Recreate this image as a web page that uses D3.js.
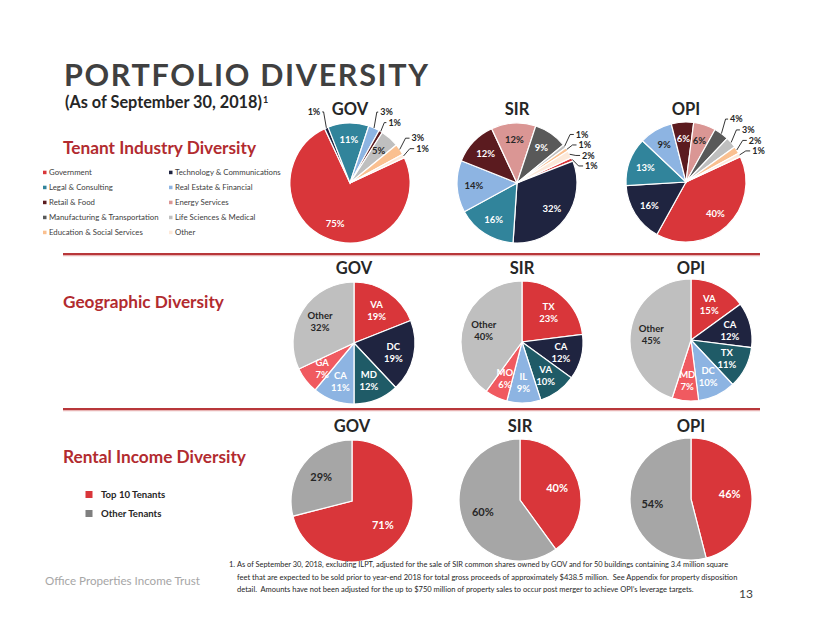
<!DOCTYPE html>
<html><head><meta charset="utf-8">
<script src="https://cdn.jsdelivr.net/npm/d3@7"></script>
<style>
body{margin:0;background:#fff;}
svg{display:block;font-family:Lato,"Open Sans",sans-serif;}
</style></head>
<body><svg id="c" width="822" height="635"></svg>
<script>
// ---------- DATA ----------
const industryCategories = ["Government","Technology & Communications","Legal & Consulting","Real Estate & Financial","Retail & Food","Energy Services","Manufacturing & Transportation","Life Sciences & Medical","Education & Social Services","Other"];
const industryColors = ["#D9363A","#1F2440","#31849B","#8DB4E2","#5B1B1F","#DA9694","#595959","#BFBFBF","#FAC090","#FDE9D9"];
const industryGOV = [75,1,11,3,1,0,0,5,3,1];
const industrySIR = [1,32,16,14,12,12,9,1,1,2];
const industryOPI = [40,16,13,9,6,6,4,3,2,1];

const geoColors = ["#D9363A","#1F2440","#1F5B67","#8DB4E2","#F05A60","#BFBFBF"];
const geoGOVLabels = ["VA","DC","MD","CA","GA","Other"];
const geoGOVValues = [19,19,12,11,7,32];
const geoSIRLabels = ["TX","CA","VA","IL","MO","Other"];
const geoSIRValues = [23,12,10,9,6,40];
const geoOPILabels = ["VA","CA","TX","DC","MD","Other"];
const geoOPIValues = [15,12,11,10,7,45];

const rentalCategories = ["Top 10 Tenants","Other Tenants"];
const rentalColors = ["#D9363A","#A6A6A6"];
const rentalGOV = [71,29];
const rentalSIR = [40,60];
const rentalOPI = [46,54];

const companies = ["GOV","SIR","OPI"];
const footnote = [
 "As of September 30, 2018, excluding ILPT, adjusted for the sale of SIR common shares owned by GOV and for 50 buildings containing 3.4 million square",
 "feet that are expected to be sold prior to year-end 2018 for total gross proceeds of approximately $438.5 million.  See Appendix for property disposition",
 "detail.  Amounts have not been adjusted for the up to $750 million of property sales to occur post merger to achieve OPI\u2019s leverage targets."
];

// ---------- DRAW ----------
const svg = d3.select("#c");
const deg = Math.PI/180;
const dark = "#404040";

function fit(sel, width){
  const n = sel.node(); const w = n.getComputedTextLength();
  const fs = parseFloat(sel.attr("font-size"));
  sel.attr("font-size", fs*width/w);
  return sel;
}
function spread(sel, width){
  const n = sel.node(); const w = n.getComputedTextLength();
  const len = sel.text().length;
  sel.attr("letter-spacing", (width-w)/(len-1));
  return sel;
}

// Title
spread(svg.append("text").attr("x",64).attr("y",85.5).attr("font-size",30.5).attr("font-weight",700)
  .attr("fill",dark).text("PORTFOLIO DIVERSITY"),364);
const sub = svg.append("text").attr("x",65).attr("y",108).attr("font-size",15).attr("font-weight",700).attr("fill","#262626");
sub.append("tspan").text("(As of September 30, 2018)");
fit(sub,197);
svg.append("text").attr("x",263).attr("y",103).attr("font-size",9).attr("font-weight",700).attr("fill","#262626").text("1");

// Section titles
const red = "#B22B2F";
[["Tenant Industry Diversity",154,193],["Geographic Diversity",308,161],["Rental Income Diversity",463,183]].forEach(([t,y,w])=>{
  fit(svg.append("text").attr("x",63).attr("y",y).attr("font-size",18).attr("font-weight",700).attr("fill",red).text(t),w);
});

// separator lines
[254,409].forEach(y=>{
  svg.append("line").attr("x1",63).attr("x2",760).attr("y1",y+1.5).attr("y2",y+1.5).attr("stroke","#E8B4B4").attr("stroke-width",1.5);
  svg.append("line").attr("x1",63).attr("x2",760).attr("y1",y).attr("y2",y).attr("stroke","#B8373A").attr("stroke-width",2);
});

// Industry legend
industryCategories.forEach((c,i)=>{
  const col = i%2, row = Math.floor(i/2);
  const x = col===0 ? 43 : 169, y = 172.5 + row*15;
  svg.append("rect").attr("x",x).attr("y",y-1.8).attr("width",3.5).attr("height",3.5).attr("fill",industryColors[i]);
  svg.append("text").attr("x",x+6).attr("y",y+2.8).attr("font-size",7.8).attr("fill","#404040").text(c);
});

// Rental legend
rentalCategories.forEach((c,i)=>{
  const y = 494.5 + i*19;
  svg.append("rect").attr("x",85.5).attr("y",y-3.5).attr("width",7).attr("height",7).attr("fill",i===0?"#D9363A":"#7F7F7F");
  svg.append("text").attr("x",101).attr("y",y+3.5).attr("font-size",9.6).attr("font-weight",700).attr("fill","#262626").text(c);
});

function title(t,cx,y){
  svg.append("text").attr("x",cx).attr("y",y).attr("text-anchor","middle").attr("font-size",16.5)
    .attr("font-weight",700).attr("fill","#262626").text(t);
}

function isLight(c){ const l = d3.hsl(c).l; return l>0.7; }

// Industry pies
const indData = [industryGOV,industrySIR,industryOPI];
const indCenters = [[350,183],[517,183],[686,182]];
indData.forEach((vals,k)=>{
  const [cx,cy] = indCenters[k]; const r = 60;
  title(companies[k],cx,115);
  const pie = d3.pie().sort(null).value(d=>d).startAngle(65*deg).endAngle(425*deg);
  const arcs = pie(vals);
  const arc = d3.arc().innerRadius(0).outerRadius(r);
  const g = svg.append("g").attr("transform",`translate(${cx},${cy})`);
  g.selectAll("path").data(arcs.filter(a=>a.value>0)).join("path")
    .attr("d",arc).attr("fill",a=>industryColors[a.index]).attr("stroke","#fff").attr("stroke-width",1.2);
  // inside labels
  arcs.filter(a=>a.value>=5).forEach(a=>{
    const m=(a.startAngle+a.endAngle)/2, rr=r*0.72;
    g.append("text").attr("x",rr*Math.sin(m)).attr("y",-rr*Math.cos(m)+3.5).attr("text-anchor","middle")
      .attr("font-size",9.5).attr("font-weight",700)
      .attr("fill",isLight(industryColors[a.index])?"#262626":"#fff").text(a.value+"%");
  });
  // outside labels
  const out = arcs.filter(a=>a.value>0&&a.value<5).map(a=>{
    const m=(a.startAngle+a.endAngle)/2; const mm = ((m/deg)%360)*deg;
    const lr = r+13;
    return {a, m, right:Math.sin(mm)>=0, ex:r*Math.sin(m), ey:-r*Math.cos(m),
            bx:(r+7)*Math.sin(m), by:-(r+7)*Math.cos(m), lx:lr*Math.sin(m), ly:-lr*Math.cos(m)-4};
  });
  const rights = out.filter(o=>o.right).sort((p,q)=>(((p.m/deg)%360)-((q.m/deg)%360)));
  for(let i=1;i<rights.length;i++){ if(rights[i].ly < rights[i-1].ly+10.5) rights[i].ly = rights[i-1].ly+10.5; }
  out.forEach(o=>{
    const sx = o.right ? o.lx-1 : o.lx+1;
    g.append("path").attr("d",`M${o.ex},${o.ey}L${o.bx},${o.ly}L${sx},${o.ly}`)
      .attr("fill","none").attr("stroke","#000").attr("stroke-width",0.8);
    g.append("text").attr("x",o.right?o.lx+1:o.lx-1).attr("y",o.ly+3.2)
      .attr("text-anchor",o.right?"start":"end").attr("font-size",9).attr("font-weight",700)
      .attr("fill","#262626").text(o.a.value+"%");
  });
});

// Geographic pies
const geoData = [[geoGOVLabels,geoGOVValues],[geoSIRLabels,geoSIRValues],[geoOPILabels,geoOPIValues]];
const geoCenters = [[354,343],[522,342],[691,340]];
geoData.forEach(([labs,vals],k)=>{
  const [cx,cy] = geoCenters[k]; const r = 61;
  title(companies[k],cx,274);
  const arcs = d3.pie().sort(null).value(d=>d)(vals);
  const arc = d3.arc().innerRadius(0).outerRadius(r);
  const g = svg.append("g").attr("transform",`translate(${cx},${cy})`);
  g.selectAll("path").data(arcs).join("path").attr("d",arc)
    .attr("fill",a=>geoColors[a.index]).attr("stroke","#fff").attr("stroke-width",1.2);
  arcs.forEach(a=>{
    const m=(a.startAngle+a.endAngle)/2, rr=r*0.66;
    const x=rr*Math.sin(m), y=-rr*Math.cos(m);
    const fill = a.index===5 ? "#262626" : "#fff";
    const t = g.append("text").attr("text-anchor","middle").attr("font-size",9.5).attr("font-weight",700).attr("fill",fill);
    t.append("tspan").attr("x",x).attr("y",y-2).text(labs[a.index]);
    t.append("tspan").attr("x",x).attr("y",y+10).text(a.value+"%");
  });
});

// Rental pies
const rentData = [rentalGOV,rentalSIR,rentalOPI];
const rentCenters = [[352,501],[520,500],[691,499]];
rentData.forEach((vals,k)=>{
  const [cx,cy] = rentCenters[k]; const r = 61;
  title(companies[k],cx,432);
  const arcs = d3.pie().sort(null).value(d=>d)(vals);
  const arc = d3.arc().innerRadius(0).outerRadius(r);
  const g = svg.append("g").attr("transform",`translate(${cx},${cy})`);
  g.selectAll("path").data(arcs).join("path").attr("d",arc)
    .attr("fill",a=>rentalColors[a.index]).attr("stroke","#fff").attr("stroke-width",1.2);
  arcs.forEach(a=>{
    const m=(a.startAngle+a.endAngle)/2, rr=r*0.64;
    g.append("text").attr("x",rr*Math.sin(m)).attr("y",-rr*Math.cos(m)+4).attr("text-anchor","middle")
      .attr("font-size",11).attr("font-weight",700).attr("fill",a.index===0?"#fff":"#262626").text(a.value+"%");
  });
});

// Footer
fit(svg.append("text").attr("x",45).attr("y",585).attr("font-size",12).attr("fill","#A6A6A6").text("Office Properties Income Trust"),155);
svg.append("text").attr("x",229).attr("y",567).attr("font-size",7.5).attr("fill","#262626").text("1.");
const fw=[492,501,457];
footnote.forEach((l,i)=>{
  fit(svg.append("text").attr("x",237).attr("y",567+i*12.5).attr("font-size",7.5).attr("fill","#262626")
    .attr("xml:space","preserve").style("white-space","pre").text(l),fw[i]);
});
svg.append("text").attr("x",739).attr("y",598).attr("font-size",12).attr("fill","#404040").text("13");
</script></body></html>
